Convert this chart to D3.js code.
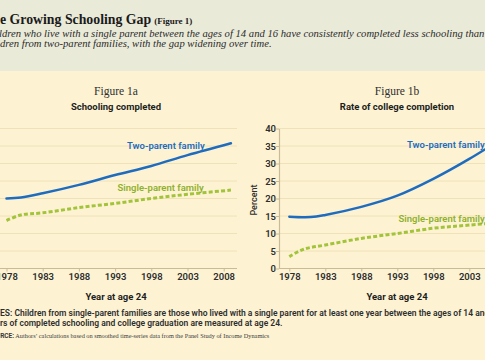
<!DOCTYPE html>
<html><head><meta charset="utf-8">
<script src="https://cdn.jsdelivr.net/npm/d3@7"></script>
<style>
body{margin:0;padding:0;overflow:hidden;background:#fdf3d3;}
svg{display:block;}
</style></head>
<body>
<svg id="c" width="485" height="360"></svg>
<script>
// ---------- data ----------
const tickYears = [1978, 1983, 1988, 1993, 1998, 2003, 2008];

// Figure 1a: schooling completed (years)
const schoolYearsTwo = [1978, 1980, 1983, 1988, 1993, 1998, 2003, 2009];
const schoolTwo      = [13.0, 13.03, 13.15, 13.39, 13.67, 13.93, 14.24, 14.58];
const schoolYearsSingle = [1978, 1980, 1983, 1988, 1993, 1998, 2003, 2009];
const schoolSingle   = [12.37, 12.53, 12.59, 12.74, 12.86, 13.0, 13.12, 13.24];
const schoolTicks    = [11, 11.5, 12, 12.5, 13, 13.5, 14, 14.5, 15];

// Figure 1b: rate of college completion (percent)
const collegeYearsTwo = [1978, 1981, 1983, 1988, 1993, 1998, 2003, 2009];
const collegeTwo      = [14.8, 14.7, 15.3, 17.6, 20.8, 25.6, 31.3, 39.0];
const collegeYearsSingle = [1978, 1980, 1983, 1988, 1993, 1998, 2003, 2009];
const collegeSingle   = [3.4, 5.5, 6.7, 8.6, 10.0, 11.5, 12.4, 13.5];
const collegeTicks    = [0, 5, 10, 15, 20, 25, 30, 35, 40];

// ---------- drawing ----------
const svg = d3.select("#c");
const sans = "Roboto, 'Open Sans', sans-serif";
const serif = "'Liberation Serif', 'DejaVu Serif', serif";
const BLUE = "#1f6cbf", GREEN = "#a3c43a", GRID = "#efe2b6", AXIS = "#c9bb96", TXT = "#2e2e2e";

svg.append("rect").attr("x",0).attr("y",0).attr("width",485).attr("height",360).attr("fill","#fdf3d3");
svg.append("rect").attr("x",0).attr("y",0).attr("width",485).attr("height",71).attr("fill","#eaead9");

// place text so that a prefix is cut off by the left edge
function cutText(str, prefix, xVisible, y, attrs){
  const t = svg.append("text").attr("y", y);
  Object.entries(attrs).forEach(([k,v])=>t.attr(k,v));
  t.text(prefix);
  const w = t.node().getComputedTextLength();
  t.text(str).attr("x", xVisible - w);
  return t;
}

// header
const title = cutText("The Growing Schooling Gap", "Th", 0, 24,
  {"font-family":serif,"font-weight":"bold","font-size":"13.8px","fill":"#1a1a1a"});
const titleEnd = (+title.attr("x")) + title.node().getComputedTextLength();
svg.append("text").attr("x", titleEnd + 3).attr("y", 24)
  .attr("font-family", serif).attr("font-weight","bold").attr("font-size","9px").attr("fill","#1a1a1a")
  .text("(Figure 1)");
cutText("Children who live with a single parent between the ages of 14 and 16 have consistently completed less schooling than",
  "Chi", -1, 36.5, {"font-family":serif,"font-style":"italic","font-size":"10.65px","fill":"#2a2a2a"});
cutText("Children from two-parent families, with the gap widening over time.",
  "Chil", 0, 46.5, {"font-family":serif,"font-style":"italic","font-size":"10.65px","fill":"#2a2a2a"});

function panel(cfg){
  const x = d3.scaleLinear().domain([1978, 2008]).range(cfg.xr);
  const y = d3.scaleLinear().domain([cfg.ticks[0], cfg.ticks[cfg.ticks.length-1]]).range([268.5, 128.5]);
  const g = svg.append("g");
  g.selectAll("line.grid").data(cfg.ticks.slice(1)).join("line")
    .attr("x1", cfg.gx[0]).attr("x2", cfg.gx[1])
    .attr("y1", d=>y(d)).attr("y2", d=>y(d))
    .attr("stroke", GRID).attr("stroke-width", 1);
  const xa = g.append("g").attr("transform","translate(0,268.5)")
    .call(d3.axisBottom(x).tickValues(tickYears).tickFormat(d3.format("d")).tickSize(3).tickSizeOuter(0));
  xa.select(".domain").remove();
  xa.selectAll(".tick line").attr("stroke", AXIS);
  xa.selectAll(".tick text").attr("font-family", sans).attr("font-weight","600")
    .attr("font-size","9.5px").attr("fill", TXT).attr("dy","0.9em").attr("y",3);
  g.append("line").attr("x1", cfg.gx[0]).attr("x2", cfg.gx[1]).attr("y1",268.5).attr("y2",268.5)
    .attr("stroke", AXIS).attr("stroke-width",1.2);
  if (cfg.yaxis){
    const ya = g.append("g").attr("transform",`translate(${cfg.yaxis},0)`)
      .call(d3.axisLeft(y).tickValues(cfg.ticks).tickSize(3).tickSizeOuter(0));
    ya.select(".domain").attr("stroke", AXIS).attr("stroke-width",1.2);
    ya.selectAll(".tick line").attr("stroke", AXIS);
    ya.selectAll(".tick text").attr("font-family", sans).attr("font-weight","600")
      .attr("font-size","9.5px").attr("fill", TXT).attr("x",-3);
    g.append("text").attr("transform",`translate(257,200) rotate(-90)`).attr("text-anchor","middle")
      .attr("font-family", sans).attr("font-weight","500").attr("font-size","9px").attr("fill", TXT)
      .text("Percent");
  }
  const line = d3.line().curve(d3.curveCatmullRom.alpha(0.5)).x(d=>x(d[0])).y(d=>y(d[1]));
  g.append("path").datum(cfg.ys.map((yr,i)=>[yr, cfg.vs[i]])).attr("d", line)
    .attr("fill","none").attr("stroke", GREEN).attr("stroke-width",3).attr("stroke-dasharray","4,2.2");
  g.append("path").datum(cfg.yt.map((yr,i)=>[yr, cfg.vt[i]])).attr("d", line)
    .attr("fill","none").attr("stroke", BLUE).attr("stroke-width",2.5).attr("stroke-linecap","round");
  g.append("text").attr("x", cfg.tl[0]).attr("y", cfg.tl[1]).attr("font-family", sans).attr("font-weight","600")
    .attr("font-size","9.5px").attr("fill", BLUE).text("Two-parent family");
  g.append("text").attr("x", cfg.sl[0]).attr("y", cfg.sl[1]).attr("font-family", sans).attr("font-weight","600")
    .attr("font-size","9.5px").attr("fill", "#8fb02c").text("Single-parent family");
  g.append("text").attr("x", cfg.cx).attr("y", 95).attr("text-anchor","middle")
    .attr("font-family", serif).attr("font-size","11.5px").attr("fill", TXT).text(cfg.fig);
  g.append("text").attr("x", cfg.cx).attr("y", 110).attr("text-anchor","middle")
    .attr("font-family", sans).attr("font-weight","bold").attr("font-size","9.5px").attr("fill", "#1e1e1e").text(cfg.title);
  g.append("text").attr("x", cfg.cx).attr("y", 300).attr("text-anchor","middle")
    .attr("font-family", sans).attr("font-weight","bold").attr("font-size","9.5px").attr("fill", "#1e1e1e").text("Year at age 24");
}

panel({xr:[6.5, 223.7], gx:[0, 237], ticks: schoolTicks, yaxis:null,
  yt: schoolYearsTwo, vt: schoolTwo, ys: schoolYearsSingle, vs: schoolSingle,
  tl:[127, 148.5], sl:[117.5, 190.5], cx:116, fig:"Figure 1a", title:"Schooling completed"});
panel({xr:[289.3, 505.3], gx:[279, 520], ticks: collegeTicks, yaxis:279,
  yt: collegeYearsTwo, vt: collegeTwo, ys: collegeYearsSingle, vs: collegeSingle,
  tl:[407, 147.5], sl:[398.5, 221.5], cx:397, fig:"Figure 1b", title:"Rate of college completion"});

// notes
cutText("NOTES: Children from single-parent families are those who lived with a single parent for at least one year between the ages of 14 and 16.",
  "NOT", 0, 316, {"font-family":sans,"font-weight":"600","font-size":"8.5px","fill":TXT});
cutText("Years of completed schooling and college graduation are measured at age 24.",
  "Yea", 0, 326, {"font-family":sans,"font-weight":"600","font-size":"8.5px","fill":TXT});
const src = cutText("SOURCE: Authors’ calculations based on smoothed time-series data from the Panel Study of Income Dynamics",
  "SOU", 0, 338, {"font-family":serif,"font-size":"6.3px","fill":"#3a3a3a"});
src.text("");
src.append("tspan").attr("font-family",sans).attr("font-weight","bold").attr("font-size","6.5px").text("SOURCE:");
src.append("tspan").text(" Authors’ calculations based on smoothed time-series data from the Panel Study of Income Dynamics");
</script>
</body></html>
